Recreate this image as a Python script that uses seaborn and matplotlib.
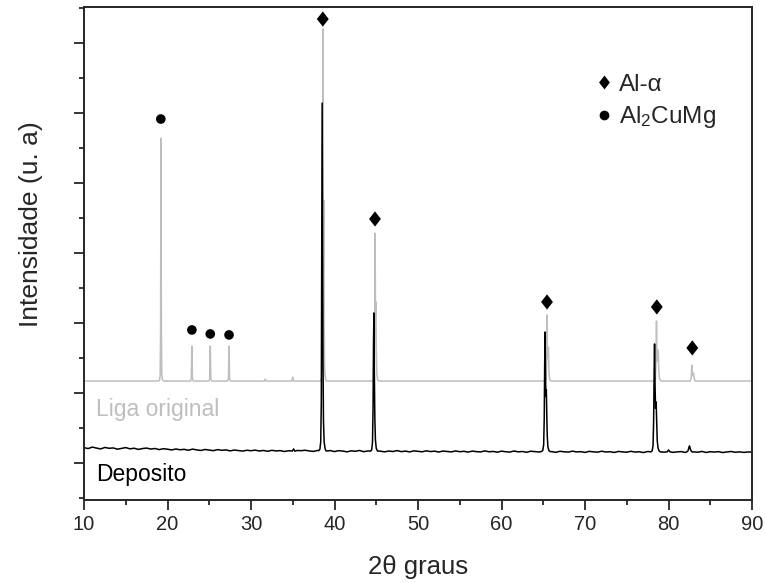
import numpy as np
import pandas as pd
import matplotlib.pyplot as plt
from matplotlib.lines import Line2D
from matplotlib.ticker import MultipleLocator
import seaborn as sns

# ==========================================
# Data
# ==========================================
# Deposito background, sampled every 0.5 deg from 10 to 90 (counts)
BG_START, BG_STOP, BG_STEP = 10.0, 90.0, 0.5
DEP_BG = [
    218, 205, 226, 212, 200, 221, 209, 214, 196, 207, 219, 201, 210, 193, 205, 212, 198, 206, 190, 203,
    196, 185, 199, 188, 194, 181, 197, 186, 178, 192, 183, 175, 190, 180, 186, 172, 184, 177, 169, 181,
    174, 183, 170, 178, 166, 180, 171, 176, 163, 174, 168, 177, 175, 181, 170, 165, 179, 172, 168, 176,
    162, 175, 169, 158, 173, 166, 178, 160, 171, 164, 175, 168, 158, 170, 163, 176, 161, 169, 157, 172,
    165, 159, 173, 162, 168, 155, 170, 163, 158, 171, 160, 166, 154, 169, 161, 157, 172, 159, 164, 153,
    168, 160, 155, 170, 158, 163, 152, 167, 161, 156, 169, 158, 162, 151, 166, 159, 155, 168, 157, 161,
    150, 165, 158, 154, 167, 156, 160, 149, 164, 157, 153, 166, 155, 159, 148, 163, 156, 152, 165, 154,
    168, 151, 157, 162, 150, 172, 158, 153, 164, 149, 160, 155, 161, 148, 157, 163, 152, 158, 150, 156,
    155,
]

# Deposito reflections (2theta, counts)
DEP_PEAKS_X = [
    [34.95, 35.1, 35.25],
    [38.1, 38.25, 38.35, 38.42, 38.47, 38.52, 38.57, 38.62, 38.68, 38.76, 38.88, 39.0],
    [44.3, 44.45, 44.55, 44.62, 44.67, 44.72, 44.77, 44.83, 44.9, 45.0, 45.15],
    [64.8, 64.95, 65.05, 65.12, 65.17, 65.22, 65.27, 65.32, 65.37, 65.42, 65.48, 65.56, 65.68, 65.85],
    [77.9, 78.05, 78.15, 78.22, 78.28, 78.33, 78.39, 78.45, 78.52, 78.58, 78.65, 78.75, 78.9, 79.05],
    [79.85, 80.0, 80.15],
    [82.2, 82.35, 82.45, 82.52, 82.6, 82.72, 82.85],
]
DEP_PEAKS_Y = [
    [170, 200, 168],
    [174, 195, 300, 850, 2900, 5143, 3100, 1500, 600, 300, 200, 170],
    [168, 185, 290, 800, 1700, 2143, 1300, 650, 330, 210, 170],
    [163, 180, 260, 650, 1400, 1871, 1250, 950, 1043, 700, 380, 230, 175, 160],
    [158, 175, 250, 600, 1300, 1700, 1100, 780, 871, 600, 320, 210, 168, 157],
    [158, 185, 160],
    [158, 175, 225, 243, 205, 170, 156],
]

# Liga original (counts above its own background)
LIGA_X = [
    10.0,
    18.9, 19.05, 19.12, 19.17, 19.22, 19.27, 19.32, 19.4, 19.55,
    22.75, 22.85, 22.92, 22.99, 23.1,
    24.95, 25.05, 25.12, 25.19, 25.3,
    27.2, 27.3, 27.37, 27.44, 27.55,
    31.6, 31.7, 31.8,
    34.9, 35.0, 35.1,
    38.3, 38.45, 38.53, 38.58, 38.62, 38.66, 38.71, 38.76, 38.82, 38.92, 39.05,
    44.55, 44.7, 44.78, 44.82, 44.86, 44.91, 44.96, 45.01, 45.07, 45.17, 45.3,
    65.2, 65.33, 65.4, 65.45, 65.5, 65.56, 65.62, 65.67, 65.75, 65.9,
    78.3, 78.43, 78.5, 78.56, 78.62, 78.7, 78.77, 78.83, 78.92, 79.1,
    82.6, 82.72, 82.8, 82.86, 82.93, 83.0, 83.07, 83.2,
    90.0,
]
LIGA_Y = [
    0,
    0, 15, 80, 700, 3471, 700, 80, 15, 0,
    0, 30, 500, 30, 0,
    0, 30, 500, 30, 0,
    0, 30, 500, 30, 0,
    0, 29, 0,
    0, 57, 0,
    0, 30, 200, 1200, 5029, 1600, 2586, 800, 150, 30, 0,
    0, 25, 250, 1000, 2114, 950, 1129, 450, 100, 20, 0,
    0, 25, 250, 943, 380, 330, 486, 180, 30, 0,
    0, 25, 250, 857, 350, 280, 443, 160, 30, 0,
    0, 50, 229, 90, 75, 114, 40, 0,
    0,
]
LIGA_OFFSET = 1170  # vertical shift of the original alloy pattern

# phase markers
AL_X = [38.6, 44.85, 65.45, 78.6, 82.85]
AL_Y = [6343, 3486, 2300, 2229, 1643]
CUMG_X = [19.2, 22.92, 25.12, 27.37]
CUMG_Y = [4914, 1900, 1843, 1829]

LIGHT_GRAY = '#BEBEBE'
DIAMOND = [(0, 1), (0.78, 0), (0, -1), (-0.78, 0), (0, 1)]

# ==========================================
# Build series
# ==========================================
bg_x = np.arange(BG_START, BG_STOP + BG_STEP / 2, BG_STEP)
bg_y = np.array(DEP_BG, dtype=float)
keep = np.ones(len(bg_x), dtype=bool)
for px in DEP_PEAKS_X:
    keep &= ~((bg_x >= px[0]) & (bg_x <= px[-1]))

dep = pd.DataFrame({
    'theta': np.concatenate([bg_x[keep]] + [np.array(p) for p in DEP_PEAKS_X]),
    'counts': np.concatenate([bg_y[keep]] + [np.array(p, dtype=float) for p in DEP_PEAKS_Y]),
}).sort_values('theta')

liga = pd.DataFrame({'theta': LIGA_X, 'counts': np.array(LIGA_Y) + LIGA_OFFSET})

# ==========================================
# Plot
# ==========================================
sns.set_style('ticks')
plt.rcParams['font.family'] = ['Liberation Sans', 'DejaVu Sans']
plt.rcParams['mathtext.fontset'] = 'custom'
plt.rcParams['mathtext.rm'] = 'Liberation Sans'
plt.rcParams['mathtext.it'] = 'Liberation Sans:italic'

fig = plt.figure(figsize=(7.65, 5.83), dpi=100)
ax = fig.add_axes([84 / 765, 83 / 583, 668 / 765, 493 / 583])

sns.lineplot(data=liga, x='theta', y='counts', estimator=None, sort=False,
             color=LIGHT_GRAY, linewidth=1.1, ax=ax)
sns.lineplot(data=dep, x='theta', y='counts', estimator=None, sort=False,
             color='black', linewidth=1.1, ax=ax)

sns.scatterplot(x=AL_X, y=AL_Y, marker=DIAMOND, s=120, color='black',
                edgecolor='none', ax=ax)
sns.scatterplot(x=CUMG_X, y=CUMG_Y, marker='o', s=48, color='black',
                edgecolor='none', ax=ax)

ax.text(0.018, 0.183, 'Liga original', transform=ax.transAxes, fontsize=16.5,
        color=LIGHT_GRAY, ha='left', va='center')
ax.text(0.018, 0.051, 'Deposito', transform=ax.transAxes, fontsize=16.5,
        color='black', ha='left', va='center')

handles = [
    Line2D([], [], linestyle='none', marker=DIAMOND, markersize=10,
           color='black', markeredgecolor='none'),
    Line2D([], [], linestyle='none', marker='o', markersize=7,
           color='black', markeredgecolor='none'),
]
ax.legend(handles, ['Al-α', r'Al$_2$CuMg'], loc='upper left',
          bbox_to_anchor=(0.75, 0.884), frameon=False, fontsize=17.5,
          handlelength=0.8, handletextpad=0.2, labelspacing=0.35,
          borderaxespad=0)

ax.set_xlim(10, 90)
ax.set_ylim(-530, 6515)
ax.xaxis.set_major_locator(MultipleLocator(10))
ax.xaxis.set_minor_locator(MultipleLocator(5))
ax.yaxis.set_major_locator(MultipleLocator(1000))
ax.yaxis.set_minor_locator(MultipleLocator(500))
ax.set_yticklabels([])

ax.tick_params(axis='both', which='major', direction='out', length=7,
               width=1.3, labelsize=14.5, pad=4, top=False, right=False)
ax.tick_params(axis='both', which='minor', direction='out', length=3.6,
               width=1.3, top=False, right=False)
for sp in ax.spines.values():
    sp.set_linewidth(1.4)
    sp.set_visible(True)

ax.set_xlabel('2θ graus', fontsize=18.5)
ax.set_ylabel('Intensidade (u. a)', fontsize=19)
ax.xaxis.set_label_coords(0.5, -0.112)
ax.yaxis.set_label_coords(-0.061, 0.56)

fig.savefig('out.png', dpi=100)
